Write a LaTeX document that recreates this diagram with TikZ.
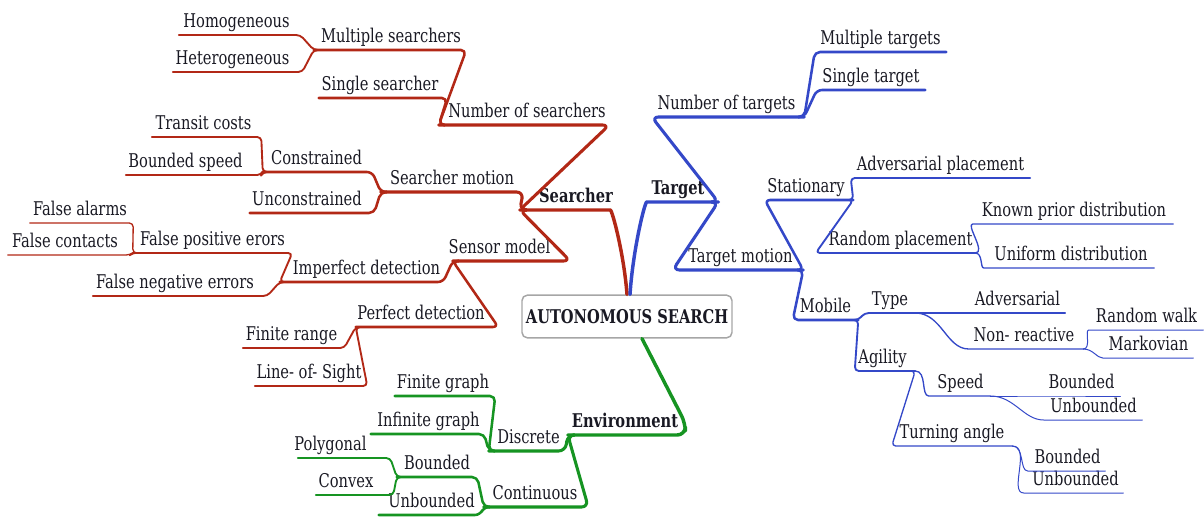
\documentclass[tikz,border=0pt]{standalone}
\usepackage{fontspec}
\setmainfont{DejaVu Serif Condensed}[FakeStretch=0.86]
\usetikzlibrary{calc}

\definecolor{mmred}{RGB}{178,40,22}
\definecolor{mmblue}{RGB}{52,72,200}
\definecolor{mmgreen}{RGB}{22,148,34}
\definecolor{mmtext}{RGB}{25,25,35}

\newcommand\lblfont{\fontsize{14.2}{16.5}\selectfont}

% \bnode{style}{name}{x1}{x2}{y}{text shift}{text}: a label sitting on an underline from x1 to x2
\newcommand\bnode[7]{%
  \pgfmathsetmacro\bnw{(#4-#3)*0.75}%
  \pgfmathsetmacro\bnd{(#6)*0.75}%
  \node[lbl,#1] (#2) at ({(#3+#4)/2},#5) {\hbox to \bnw pt{\hss\kern\bnd pt #7\kern-\bnd pt\hss}};}

% child on the left: its underline, then up/down to the parent's left end
\newcommand\lch[3]{\draw[#1] (#2.south west) -- (#2.south east) -- (#3.south west) -- ++(6,0);}
% child on the right: from the parent's right end to the child's underline
\newcommand\rch[3]{\draw[#1] (#3.south east) ++(-6,0) -- (#3.south east) -- (#2.south west) -- (#2.south east);}
% smooth S-shaped branch on the right
\newcommand\rcs[3]{\draw[#1] (#3.south east) to[out=0,in=180] (#2.south west) -- (#2.south east);}

\tikzset{
  lbl/.style={anchor=south, inner xsep=0pt, inner ysep=2.2pt, text depth=3.4pt,
              font=\lblfont, text=mmtext},
  bold/.style={font=\lblfont\bfseries},
  l1/.style={line width=2.6pt, rounded corners=6pt, line cap=round, line join=round},
  l2/.style={line width=2.3pt, rounded corners=5pt, line cap=round, line join=round},
  l3/.style={line width=1.9pt, rounded corners=4pt, line cap=round, line join=round},
  l4/.style={line width=1.4pt, rounded corners=3pt, line cap=round, line join=round},
  l5/.style={line width=1.0pt, rounded corners=3pt, line cap=round, line join=round},
  l6/.style={line width=0.75pt, rounded corners=3pt, line cap=round, line join=round},
  rootbox/.style={draw=black!35, line width=1.1pt, rounded corners=4pt, fill=white,
                  minimum width=157.5pt, minimum height=32pt, inner sep=0pt,
                  font=\lblfont\bfseries, text=mmtext}
}

\begin{document}
\begin{tikzpicture}[x=0.75pt,y=-0.75pt]
\useasboundingbox (0,0) rectangle (1204,517);

\node[rootbox] (root) at (627,316.5) {AUTONOMOUS SEARCH};

% ---- Searcher branch ----
\bnode{bold}{searcher}{520}{602}{210}{15}{Searcher}
\bnode{}{numsearch}{439}{609}{125}{3}{Number of searchers}
\bnode{}{multsearch}{314}{466}{50}{1}{Multiple searchers}
\bnode{}{single}{319}{447}{98}{-3}{Single searcher}
\bnode{}{homog}{179}{300}{35}{-3}{Homogeneous}
\bnode{}{heterog}{173}{302}{72}{-5}{Heterogeneous}
\bnode{}{smotion}{381}{523}{192}{0}{Searcher motion}
\bnode{}{constr}{263}{372}{172}{-1}{Constrained}
\bnode{}{unconstr}{250}{374}{213}{-5}{Unconstrained}
\bnode{}{transit}{152}{261}{137}{-3}{Transit costs}
\bnode{}{bspeed}{126}{261}{175}{-8}{Bounded speed}
\bnode{}{sensor}{453}{570}{261}{-12}{Sensor model}
\bnode{}{imperf}{280}{443}{282}{5}{Imperfect detection}
\bnode{}{perf}{356}{498}{327}{-6}{Perfect detection}
\bnode{}{falsepos}{133}{292}{253}{0}{False positive erors}
\bnode{}{falseneg}{93}{267}{296}{-5}{False negative errors}
\bnode{}{falsealarm}{30}{133}{223}{-1.5}{False alarms}
\bnode{}{falsecont}{8}{130}{255}{-4}{False contacts}
\bnode{}{finrange}{243}{344}{348}{-2}{Finite range}
\bnode{}{los}{255}{367}{386}{-2}{Line- of- Sight}

% ---- Environment branch ----
\bnode{bold}{env}{568}{685}{435}{-1.5}{Environment}
\bnode{}{discrete}{489}{565}{451}{1.5}{Discrete}
\bnode{}{contin}{484}{588}{507}{-1}{Continuous}
\bnode{}{fingraph}{395}{495}{396}{-2}{Finite graph}
\bnode{}{infgraph}{371}{484}{434}{1}{Infinite graph}
\bnode{}{bounded}{397}{477}{477}{0}{Bounded}
\bnode{}{unbounded}{379}{480}{515}{2}{Unbounded}
\bnode{}{polygonal}{298}{390}{458}{-13.5}{Polygonal}
\bnode{}{convex}{316}{393}{495}{-8.5}{Convex}

% ---- Target branch ----
\bnode{bold}{target}{655}{718}{202}{-8.5}{Target}
\bnode{}{numtarg}{652}{804}{117}{-1.5}{Number of targets}
\bnode{}{tmotion}{673}{803}{270}{2.5}{Target motion}
\bnode{}{multtarg}{815}{946}{52}{0}{Multiple targets}
\bnode{}{singletarg}{817}{925}{90}{0}{Single target}
\bnode{}{stationary}{765}{853}{200}{-3}{Stationary}
\bnode{}{mobile}{793}{858}{320}{0}{Mobile}
\bnode{}{advplace}{851}{1030}{178}{0}{Adversarial placement}
\bnode{}{randplace}{816}{975}{253}{5}{Random placement}
\bnode{}{known}{977}{1173}{224}{-1}{Known prior distribution}
\bnode{}{uniform}{988}{1154}{268}{0}{Uniform distribution}
\bnode{}{type}{865}{915}{313}{0}{Type}
\bnode{}{agility}{855}{915}{371}{-2.5}{Agility}
\bnode{}{adversarial}{973}{1065}{313}{-1.5}{Adversarial}
\bnode{}{nonreact}{973}{1083}{349}{-4}{Non- reactive}
\bnode{}{randwalk}{1093}{1203}{330}{-1.5}{Random walk}
\bnode{}{markov}{1107}{1193}{358}{-1.5}{Markovian}
\bnode{}{speed}{933}{990}{396}{-1}{Speed}
\bnode{}{turning}{892}{1012}{446}{0}{Turning angle}
\bnode{}{sbounded}{1048}{1120}{396}{-2.5}{Bounded}
\bnode{}{sunbounded}{1048}{1142}{420}{-1.5}{Unbounded}
\bnode{}{tbounded}{1032}{1105}{471}{-1}{Bounded}
\bnode{}{tunbounded}{1028}{1123}{493}{0}{Unbounded}

% ---- main branches from the root ----
\draw[l1,mmred] (searcher.south west) -- (searcher.south east)
  .. controls +(10,0) and +(-3,-40) .. (root.north);
\draw[l1,mmblue] ($(root.north)+(3,0)$) .. controls +(3,-45) and +(-10,0) .. (target.south west)
  -- (target.south east);
\draw[l1,mmgreen] ($(root.south)+(15,0)$) -- ($(env.south east)+(0,-12)$)
  -- (env.south east) -- (env.south west);

% ---- searcher sub-branches ----
\lch{l2,mmred}{numsearch}{searcher}
\lch{l2,mmred}{smotion}{searcher}
\lch{l2,mmred}{sensor}{searcher}
\lch{l3,mmred}{multsearch}{numsearch}
\lch{l3,mmred}{single}{numsearch}
\lch{l4,mmred}{homog}{multsearch}
\lch{l4,mmred}{heterog}{multsearch}
\lch{l3,mmred}{constr}{smotion}
\lch{l3,mmred}{unconstr}{smotion}
\lch{l4,mmred}{transit}{constr}
\lch{l4,mmred}{bspeed}{constr}
\lch{l3,mmred}{imperf}{sensor}
\lch{l3,mmred}{perf}{sensor}
\lch{l4,mmred}{falsepos}{imperf}
\lch{l4,mmred}{falseneg}{imperf}
\lch{l5,mmred}{falsealarm}{falsepos}
\lch{l5,mmred}{falsecont}{falsepos}
\lch{l4,mmred}{finrange}{perf}
\lch{l4,mmred}{los}{perf}

% ---- environment sub-branches ----
\lch{l2,mmgreen}{discrete}{env}
\lch{l2,mmgreen}{contin}{env}
\lch{l3,mmgreen}{fingraph}{discrete}
\lch{l3,mmgreen}{infgraph}{discrete}
\lch{l3,mmgreen}{bounded}{contin}
\lch{l3,mmgreen}{unbounded}{contin}
\lch{l4,mmgreen}{polygonal}{bounded}
\lch{l4,mmgreen}{convex}{bounded}

% ---- target sub-branches ----
\rch{l2,mmblue}{numtarg}{target}
\rch{l2,mmblue}{tmotion}{target}
\rch{l3,mmblue}{multtarg}{numtarg}
\rch{l3,mmblue}{singletarg}{numtarg}
\rch{l3,mmblue}{stationary}{tmotion}
\rch{l3,mmblue}{mobile}{tmotion}
\rch{l4,mmblue}{advplace}{stationary}
\rch{l4,mmblue}{randplace}{stationary}
\rcs{l5,mmblue}{known}{randplace}
\rcs{l5,mmblue}{uniform}{randplace}
\rch{l4,mmblue}{type}{mobile}
\rch{l4,mmblue}{agility}{mobile}
\draw[l5,mmblue] (type.south east) -- (adversarial.south west) -- (adversarial.south east);
\rcs{l5,mmblue}{nonreact}{type}
\rcs{l6,mmblue}{randwalk}{nonreact}
\rcs{l6,mmblue}{markov}{nonreact}
\rcs{l5,mmblue}{speed}{agility}
\rch{l5,mmblue}{turning}{agility}
\draw[l6,mmblue] (speed.south east) -- (sbounded.south west) -- (sbounded.south east);
\rcs{l6,mmblue}{sunbounded}{speed}
\rcs{l6,mmblue}{tbounded}{turning}
\rcs{l6,mmblue}{tunbounded}{turning}
\end{tikzpicture}
\end{document}
